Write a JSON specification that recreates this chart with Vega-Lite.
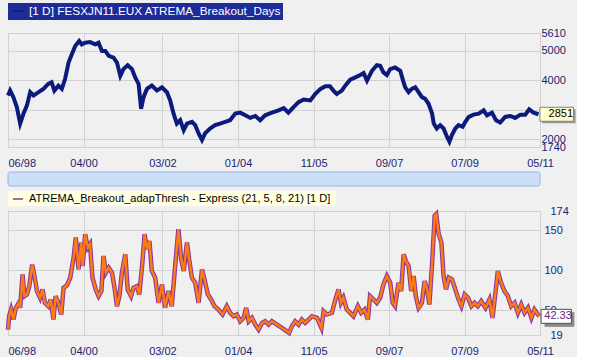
{
  "$schema": "https://vega.github.io/schema/vega-lite/v6.json",
  "background": "#f0f0f0",
  "padding": {"left": -2, "top": 2, "right": 0, "bottom": 0},
  "bounds": "flush",
  "spacing": 25,
  "resolve": {"scale": {"color": "independent"}, "legend": {"color": "independent"}},
  "config": {
    "font": "Liberation Sans",
    "view": {"stroke": "#c4c4c4"},
    "axis": {"gridColor": "#d2d2d2", "domain": false, "ticks": false, "labelColor": "#1a2470", "labelFontSize": 11, "labelFont": "Liberation Sans"}
  },
  "datasets": {
    "price": [
      {"d":"1998-06-01","v":3488},{"d":"1998-06-20","v":3656},{"d":"1998-07-19","v":3432},{"d":"1998-08-18","v":3096},{"d":"1998-09-17","v":2537},{"d":"1998-10-16","v":2873},{"d":"1998-11-16","v":3152},{"d":"1998-12-15","v":3600},
      {"d":"1999-01-14","v":3488},{"d":"1999-02-27","v":3600},{"d":"1999-04-11","v":3712},{"d":"1999-05-24","v":3880},{"d":"1999-06-23","v":3936},{"d":"1999-07-17","v":3656},{"d":"1999-08-22","v":3824},{"d":"1999-09-21","v":3712},{"d":"1999-10-20","v":4048},{"d":"1999-11-20","v":4608},{"d":"1999-12-19","v":4888},
      {"d":"2000-01-18","v":5168},{"d":"2000-02-22","v":5336},{"d":"2000-03-16","v":5224},{"d":"2000-04-15","v":5280},{"d":"2000-05-28","v":5302},{"d":"2000-07-13","v":5224},{"d":"2000-08-12","v":5280},{"d":"2000-09-11","v":5000},{"d":"2000-10-11","v":5000},{"d":"2000-11-10","v":4832},{"d":"2000-12-23","v":4776},
      {"d":"2001-01-22","v":4608},{"d":"2001-02-21","v":4160},{"d":"2001-03-20","v":4384},{"d":"2001-04-27","v":4518},{"d":"2001-06-04","v":4384},{"d":"2001-07-03","v":4104},{"d":"2001-08-02","v":3880},{"d":"2001-08-24","v":3040},{"d":"2001-09-15","v":3432},{"d":"2001-10-15","v":3712},{"d":"2001-11-27","v":3824},
      {"d":"2002-01-12","v":3656},{"d":"2002-02-25","v":3768},{"d":"2002-04-10","v":3600},{"d":"2002-05-09","v":3320},{"d":"2002-06-08","v":2873},{"d":"2002-07-07","v":2537},{"d":"2002-08-06","v":2649},{"d":"2002-09-06","v":2313},{"d":"2002-10-05","v":2537},{"d":"2002-11-18","v":2593},{"d":"2002-12-17","v":2481},
      {"d":"2003-01-16","v":2201},{"d":"2003-02-15","v":1977},{"d":"2003-03-14","v":2201},{"d":"2003-04-27","v":2369},{"d":"2003-06-12","v":2481},{"d":"2003-07-25","v":2537},{"d":"2003-09-09","v":2593},{"d":"2003-10-22","v":2649},{"d":"2003-12-07","v":2873},
      {"d":"2004-01-20","v":2906},{"d":"2004-03-05","v":2817},{"d":"2004-04-18","v":2727},{"d":"2004-06-02","v":2794},{"d":"2004-07-15","v":2649},{"d":"2004-08-28","v":2817},{"d":"2004-10-27","v":2906},{"d":"2004-12-25","v":2985},
      {"d":"2005-02-09","v":3062},{"d":"2005-03-22","v":2906},{"d":"2005-05-07","v":3096},{"d":"2005-06-20","v":3264},{"d":"2005-08-05","v":3354},{"d":"2005-10-03","v":3320},{"d":"2005-11-16","v":3544},
      {"d":"2006-01-01","v":3712},{"d":"2006-02-13","v":3802},{"d":"2006-03-26","v":3802},{"d":"2006-04-25","v":3656},{"d":"2006-05-25","v":3544},{"d":"2006-07-09","v":3656},{"d":"2006-08-08","v":3824},{"d":"2006-09-21","v":4026},{"d":"2006-11-06","v":4104},{"d":"2006-12-19","v":4182},
      {"d":"2007-01-18","v":4250},{"d":"2007-02-17","v":3992},{"d":"2007-04-02","v":4328},{"d":"2007-05-15","v":4518},{"d":"2007-06-14","v":4496},{"d":"2007-07-13","v":4272},{"d":"2007-08-12","v":4182},{"d":"2007-09-11","v":4384},{"d":"2007-10-24","v":4440},{"d":"2007-12-09","v":4328},
      {"d":"2008-01-03","v":3992},{"d":"2008-01-22","v":3768},{"d":"2008-02-21","v":3600},{"d":"2008-03-20","v":3712},{"d":"2008-04-20","v":3768},{"d":"2008-05-19","v":3600},{"d":"2008-06-18","v":3432},{"d":"2008-07-17","v":3376},{"d":"2008-08-16","v":3208},{"d":"2008-09-16","v":2873},{"d":"2008-10-01","v":2537},{"d":"2008-10-28","v":2369},{"d":"2008-11-27","v":2481},{"d":"2008-12-27","v":2369},
      {"d":"2009-01-26","v":2089},{"d":"2009-02-17","v":1921},{"d":"2009-03-11","v":2145},{"d":"2009-04-10","v":2369},{"d":"2009-05-09","v":2481},{"d":"2009-06-14","v":2425},{"d":"2009-07-08","v":2593},{"d":"2009-08-07","v":2761},{"d":"2009-09-19","v":2839},{"d":"2009-11-04","v":2873},{"d":"2009-12-17","v":2985},
      {"d":"2010-01-16","v":2817},{"d":"2010-03-01","v":2906},{"d":"2010-04-06","v":2649},{"d":"2010-05-13","v":2571},{"d":"2010-06-26","v":2761},{"d":"2010-08-11","v":2794},{"d":"2010-09-23","v":2727},{"d":"2010-11-08","v":2839},{"d":"2010-12-21","v":2839},
      {"d":"2011-01-25","v":3017},{"d":"2011-03-05","v":2906},{"d":"2011-04-18","v":2851}
    ],
    "osc": [
      {"d":"1998-06-01","v":25.7},{"d":"1998-06-11","v":42.5},{"d":"1998-06-28","v":50.8},{"d":"1998-07-19","v":38.3},{"d":"1998-08-10","v":53},{"d":"1998-09-04","v":59},{"d":"1998-09-17","v":53},{"d":"1998-10-08","v":94.8},{"d":"1998-10-25","v":67.6},{"d":"1998-11-16","v":69.7},{"d":"1998-12-07","v":80},
      {"d":"1999-01-01","v":107},{"d":"1999-01-19","v":94.8},{"d":"1999-02-13","v":73.9},{"d":"1999-03-12","v":65.5},{"d":"1999-04-03","v":76},{"d":"1999-04-25","v":59.2},{"d":"1999-05-24","v":55},{"d":"1999-06-15","v":63.4},{"d":"1999-07-09","v":38.3},{"d":"1999-07-28","v":67.6},{"d":"1999-08-22","v":59.2},{"d":"1999-09-16","v":44.6},{"d":"1999-10-07","v":78},{"d":"1999-11-06","v":81},{"d":"1999-12-05","v":90.6},
      {"d":"2000-01-04","v":115.7},{"d":"2000-01-23","v":140.8},{"d":"2000-02-17","v":101},{"d":"2000-03-11","v":134.5},{"d":"2000-03-24","v":105.2},{"d":"2000-04-15","v":145},{"d":"2000-05-09","v":128.2},{"d":"2000-05-28","v":132.4},{"d":"2000-06-19","v":90.6},{"d":"2000-07-18","v":76},{"d":"2000-08-12","v":67.6},{"d":"2000-09-06","v":73.9},{"d":"2000-09-25","v":117.8},{"d":"2000-10-16","v":96.9},{"d":"2000-11-10","v":103},{"d":"2000-12-09","v":96.9},
      {"d":"2001-01-03","v":76},{"d":"2001-01-22","v":55},{"d":"2001-02-13","v":67.6},{"d":"2001-03-07","v":96.9},{"d":"2001-04-06","v":119.9},{"d":"2001-04-27","v":76},{"d":"2001-05-27","v":67.6},{"d":"2001-06-18","v":78},{"d":"2001-07-17","v":80},{"d":"2001-08-08","v":69.7},{"d":"2001-09-02","v":105.2},{"d":"2001-09-24","v":145},{"d":"2001-10-15","v":126.2},{"d":"2001-11-06","v":136.6},{"d":"2001-11-27","v":99},{"d":"2001-12-27","v":90.6},
      {"d":"2002-01-26","v":59.2},{"d":"2002-02-25","v":82.2},{"d":"2002-03-24","v":53},{"d":"2002-04-24","v":73.9},{"d":"2002-05-23","v":55},{"d":"2002-06-22","v":105.2},{"d":"2002-07-21","v":151.3},{"d":"2002-08-15","v":113.6},{"d":"2002-09-06","v":99},{"d":"2002-10-05","v":134.5},{"d":"2002-10-24","v":113.6},{"d":"2002-11-18","v":90.6},{"d":"2002-12-17","v":84.3},
      {"d":"2003-01-16","v":59.2},{"d":"2003-02-15","v":101},{"d":"2003-03-09","v":88.5},{"d":"2003-04-08","v":69.7},{"d":"2003-05-07","v":63.4},{"d":"2003-06-06","v":55},{"d":"2003-07-11","v":50.8},{"d":"2003-08-16","v":44.6},{"d":"2003-09-23","v":55},{"d":"2003-10-22","v":46.7},{"d":"2003-11-22","v":42.5},{"d":"2003-12-21","v":44.6},
      {"d":"2004-01-20","v":36.2},{"d":"2004-02-19","v":40.4},{"d":"2004-03-13","v":53},{"d":"2004-04-04","v":36.2},{"d":"2004-05-03","v":40.4},{"d":"2004-06-02","v":32},{"d":"2004-07-01","v":25.7},{"d":"2004-08-01","v":34.1},{"d":"2004-08-28","v":36.2},{"d":"2004-09-27","v":32},{"d":"2004-10-27","v":36.2},{"d":"2004-12-11","v":32},
      {"d":"2005-01-24","v":27.8},{"d":"2005-03-09","v":23.6},{"d":"2005-03-28","v":21.5},{"d":"2005-04-22","v":30},{"d":"2005-05-21","v":36.2},{"d":"2005-06-20","v":32},{"d":"2005-07-19","v":38.3},{"d":"2005-08-18","v":34.1},{"d":"2005-09-17","v":38.3},{"d":"2005-10-16","v":42.5},{"d":"2005-12-01","v":40.4},
      {"d":"2006-01-09","v":27.8},{"d":"2006-01-28","v":48.7},{"d":"2006-02-27","v":44.6},{"d":"2006-04-12","v":46.7},{"d":"2006-05-17","v":65.5},{"d":"2006-06-10","v":76},{"d":"2006-07-01","v":59.2},{"d":"2006-07-23","v":65.5},{"d":"2006-08-22","v":50.8},{"d":"2006-09-21","v":46.7},{"d":"2006-10-20","v":42.5},{"d":"2006-11-28","v":55},{"d":"2006-12-27","v":46.7},
      {"d":"2007-01-26","v":50.8},{"d":"2007-02-25","v":38.3},{"d":"2007-03-16","v":67.6},{"d":"2007-04-16","v":63.4},{"d":"2007-05-15","v":59.2},{"d":"2007-06-14","v":65.5},{"d":"2007-07-13","v":82.2},{"d":"2007-08-12","v":92.7},{"d":"2007-09-11","v":84.3},{"d":"2007-10-03","v":59.2},{"d":"2007-10-24","v":55},{"d":"2007-11-23","v":84.3},{"d":"2007-12-17","v":73.9},
      {"d":"2008-01-08","v":119.9},{"d":"2008-01-27","v":111.5},{"d":"2008-02-21","v":105.2},{"d":"2008-03-15","v":73.9},{"d":"2008-04-06","v":92.7},{"d":"2008-04-25","v":67.6},{"d":"2008-05-19","v":53},{"d":"2008-06-18","v":59.2},{"d":"2008-07-12","v":86.4},{"d":"2008-08-03","v":76},{"d":"2008-08-23","v":57.1},{"d":"2008-09-16","v":107.3},{"d":"2008-10-09","v":168},{"d":"2008-10-23","v":170},{"d":"2008-11-14","v":145},{"d":"2008-12-08","v":134.5},{"d":"2008-12-27","v":92.7},
      {"d":"2009-01-18","v":76},{"d":"2009-02-11","v":90.6},{"d":"2009-03-11","v":88.5},{"d":"2009-04-10","v":76},{"d":"2009-05-09","v":63.4},{"d":"2009-06-03","v":55},{"d":"2009-07-02","v":69.7},{"d":"2009-08-01","v":65.5},{"d":"2009-08-31","v":55},{"d":"2009-09-28","v":59.2},{"d":"2009-10-27","v":55},{"d":"2009-11-26","v":61.3},
      {"d":"2010-01-03","v":53},{"d":"2010-02-07","v":63.4},{"d":"2010-03-06","v":40.4},{"d":"2010-04-06","v":78},{"d":"2010-04-22","v":99},{"d":"2010-05-21","v":84.3},{"d":"2010-06-20","v":73.9},{"d":"2010-07-20","v":67.6},{"d":"2010-08-19","v":55},{"d":"2010-09-18","v":59.2},{"d":"2010-10-17","v":46.7},{"d":"2010-11-16","v":57.1},{"d":"2010-12-15","v":46.7},
      {"d":"2011-01-15","v":53},{"d":"2011-02-14","v":40.4},{"d":"2011-03-13","v":50.8},{"d":"2011-04-12","v":44.6},{"d":"2011-04-25","v":42.33}
    ]
  },
  "vconcat": [
    {
      "width": 532,
      "height": 114,
      "data": {"name": "price"},
      "encoding": {
        "x": {"field": "d", "type": "temporal", "title": null,
          "scale": {"type": "utc", "domain": [{"year": 1998, "month": 6, "date": 1, "utc": true}, {"year": 2011, "month": 5, "date": 1, "utc": true}]},
          "axis": {"format": "%m/%y", "labelPadding": 10, "labelFlush": false, "labelOverlap": false,
            "values": [{"year": 1998, "month": 6, "date": 1, "utc": true}, {"year": 2000, "month": 4, "date": 1, "utc": true}, {"year": 2002, "month": 3, "date": 1, "utc": true}, {"year": 2004, "month": 1, "date": 1, "utc": true}, {"year": 2005, "month": 11, "date": 1, "utc": true}, {"year": 2007, "month": 9, "date": 1, "utc": true}, {"year": 2009, "month": 7, "date": 1, "utc": true}, {"year": 2011, "month": 5, "date": 1, "utc": true}],
            "labelAlign": {"condition": {"test": "datum.index == 0", "value": "left"}, "value": "center"}}},
        "y": {"field": "v", "type": "quantitative", "title": null,
          "scale": {"domain": [1740, 5610], "nice": false, "zero": false},
          "axis": {"orient": "right", "values": [1740, 2000, 3000, 4000, 5000, 5610], "labelPadding": 1, "labelOverlap": false, "labelExpr": "datum.value == 3000 ? '' : datum.label", "format": "d"}}
      },
      "layer": [
        {
          "mark": {"type": "line", "strokeWidth": 4, "strokeJoin": "miter"},
          "encoding": {
            "color": {"datum": "[1 D] FESXJN11.EUX ATREMA_Breakout_Days", "type": "nominal",
              "scale": {"range": ["#0c1a7c"]},
              "legend": {"orient": "none", "legendX": 0, "legendY": -30, "title": null, "direction": "horizontal",
                "fillColor": "#1e2c9a",
                "padding": 2, "symbolOffset": 2, "labelOffset": 5, "labelColor": "#ffffff", "labelFont": "Liberation Sans", "labelFontSize": 11.8, "labelLimit": 400,
                "symbolType": "stroke", "symbolSize": 100, "symbolStrokeWidth": 1.5}}
          }
        },
        {
          "transform": [{"filter": "datum.v == 2851"}],
          "mark": {"type": "point", "shape": "M0.1,-0.14H1.06V0.26H0.1Z", "size": 4900, "filled": true, "fill": "#9a9a9a", "strokeWidth": 0, "opacity": 1}
        },
        {
          "transform": [{"filter": "datum.v == 2851"}],
          "mark": {"type": "point", "shape": "M0.04,-0.2H1V0.2H0.04Z", "size": 4900, "filled": true, "fill": "#ffffcc", "stroke": "#808080", "strokeWidth": 1, "opacity": 1}
        },
        {
          "transform": [{"filter": "datum.v == 2851"}],
          "mark": {"type": "text", "align": "left", "dx": 10, "fontSize": 11, "color": "#000000"},
          "encoding": {"text": {"field": "v", "type": "quantitative", "format": "d"}}
        }
      ]
    },
    {
      "width": 532,
      "height": 14,
      "view": {"stroke": null},
      "data": {"values": [{"start": "1998-06-01", "end": "2011-05-01"}]},
      "mark": {"type": "rect", "fill": "#cddff8", "stroke": "#95b3e2", "strokeWidth": 1, "cornerRadius": 2},
      "encoding": {
        "x": {"field": "start", "type": "temporal", "axis": null,
          "scale": {"type": "utc", "domain": [{"year": 1998, "month": 6, "date": 1, "utc": true}, {"year": 2011, "month": 5, "date": 1, "utc": true}]}},
        "x2": {"field": "end"}
      }
    },
    {
      "width": 532,
      "height": 124,
      "data": {"name": "osc"},
      "encoding": {
        "x": {"field": "d", "type": "temporal", "title": null,
          "scale": {"type": "utc", "domain": [{"year": 1998, "month": 6, "date": 1, "utc": true}, {"year": 2011, "month": 5, "date": 1, "utc": true}]},
          "axis": {"format": "%m/%y", "labelPadding": 10, "labelFlush": false, "labelOverlap": false,
            "values": [{"year": 1998, "month": 6, "date": 1, "utc": true}, {"year": 2000, "month": 4, "date": 1, "utc": true}, {"year": 2002, "month": 3, "date": 1, "utc": true}, {"year": 2004, "month": 1, "date": 1, "utc": true}, {"year": 2005, "month": 11, "date": 1, "utc": true}, {"year": 2007, "month": 9, "date": 1, "utc": true}, {"year": 2009, "month": 7, "date": 1, "utc": true}, {"year": 2011, "month": 5, "date": 1, "utc": true}],
            "labelAlign": {"condition": {"test": "datum.index == 0", "value": "left"}, "value": "center"}}},
        "y": {"field": "v", "type": "quantitative", "title": null,
          "scale": {"domain": [19, 174], "nice": false, "zero": false},
          "axis": {"orient": "right", "values": [19, 50, 100, 150, 174], "labelOverlap": false, "format": "d",
            "labelPadding": {"condition": {"test": "datum.value == 19 || datum.value == 174", "value": 10}, "value": 4}}}
      },
      "layer": [
        {
          "mark": {"type": "line", "strokeWidth": 4.5, "strokeJoin": "miter"},
          "encoding": {
            "color": {"datum": "ATREMA_Breakout_adapThresh - Express  (21, 5, 8, 21) [1 D]", "type": "nominal",
              "scale": {"range": ["#8a3a9a"]},
              "legend": {"orient": "none", "legendX": 0, "legendY": -20, "title": null, "direction": "horizontal",
                "fillColor": "#ffffe1", "padding": 2, "symbolOffset": 2, "labelOffset": 5, "labelColor": "#000000", "labelFont": "Liberation Sans", "labelFontSize": 11, "labelLimit": 400,
                "symbolType": "stroke", "symbolSize": 100, "symbolStrokeWidth": 1.5}}
          }
        },
        {
          "mark": {"type": "line", "strokeWidth": 2.4, "color": "#ff7a12", "strokeJoin": "miter"}
        },
        {
          "transform": [{"filter": "datum.v == 42.33"}],
          "mark": {"type": "point", "shape": "M0.15,-0.12H1.0V0.3H0.15Z", "size": 4900, "filled": true, "fill": "#8a8a8a", "strokeWidth": 0, "opacity": 1}
        },
        {
          "transform": [{"filter": "datum.v == 42.33"}],
          "mark": {"type": "point", "shape": "M0.05,-0.2H0.92V0.2H0.05Z", "size": 4900, "filled": true, "fill": "#ffffff", "stroke": "#505050", "strokeWidth": 1, "opacity": 1}
        },
        {
          "transform": [{"filter": "datum.v == 42.33"}],
          "mark": {"type": "text", "align": "left", "dx": 5, "fontSize": 11, "color": "#6a2a80"},
          "encoding": {"text": {"field": "v", "type": "quantitative", "format": ".2f"}}
        }
      ]
    }
  ]
}
